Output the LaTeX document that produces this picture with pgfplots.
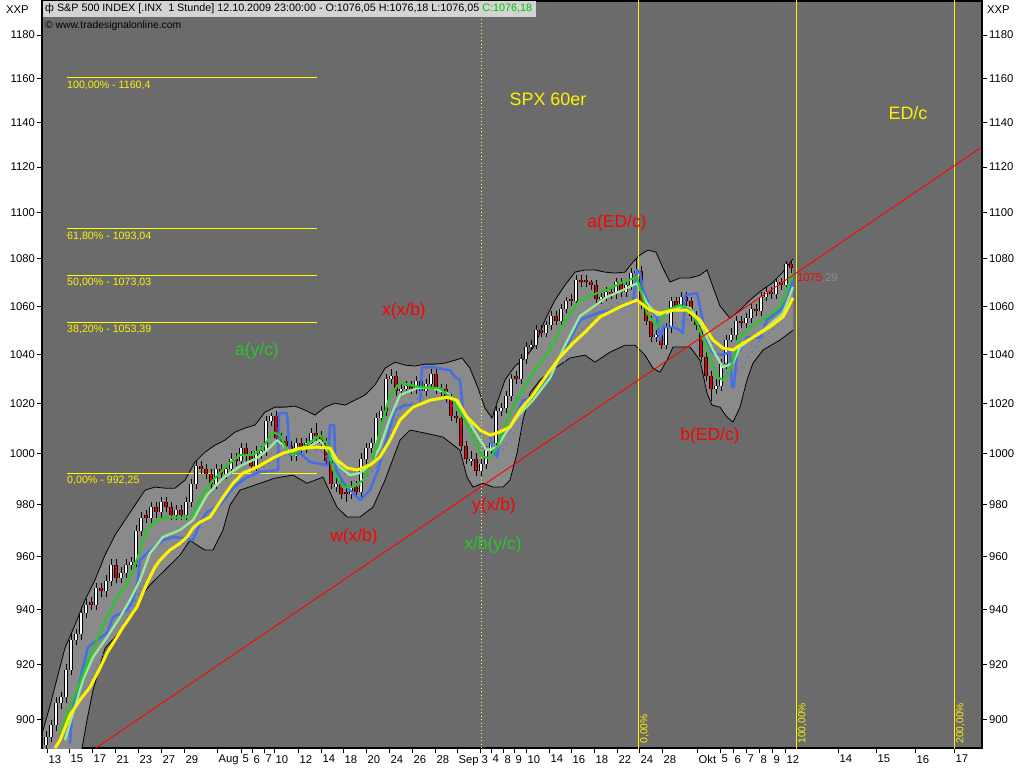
\documentclass[border=0pt]{standalone}
\usepackage{fontspec}
\setmainfont{Liberation Sans}
\usepackage{pgfplots}
\usepackage{pgfplotstable}
\pgfplotsset{compat=1.18}
\definecolor{plotbg}{RGB}{107,107,107}
\definecolor{bandgray}{RGB}{138,138,138}
\definecolor{magreen}{RGB}{40,200,40}
\definecolor{malight}{RGB}{150,235,150}
\definecolor{mablue}{RGB}{70,110,230}
\definecolor{hdrgray}{RGB}{212,212,212}
\definecolor{fibyel}{RGB}{255,255,0}
\definecolor{candred}{RGB}{230,0,0}
\definecolor{annogreen}{RGB}{40,200,40}
\definecolor{hdrgreen}{RGB}{0,190,0}
\newcommand\fs[1]{\fontsize{#1}{#1}\selectfont}

% candle wicks: low, high, break
\pgfplotstableread[row sep=\\]{
x y\\
46 889\\46 896\\46 nan\\ 51 892\\51 900\\51 nan\\ 56 896\\56 908\\56 nan\\ 61 904\\61 910\\61 nan\\
66 906\\66 920\\66 nan\\ 71 916\\71 931\\71 nan\\ 76 927\\76 933\\76 nan\\ 81 929\\81 941\\81 nan\\
86 937\\86 944\\86 nan\\ 91 940\\91 945\\91 nan\\ 96 940\\96 950\\96 nan\\ 101 945\\101 950\\101 nan\\
106 945\\106 953\\106 nan\\ 111 949\\111 959\\111 nan\\ 116 950\\116 959\\116 nan\\ 121 950\\121 956\\121 nan\\
126 952\\126 959\\126 nan\\ 131 955\\131 960\\131 nan\\ 136 956\\136 972\\136 nan\\ 141 968\\141 977\\141 nan\\
146 973\\146 978\\146 nan\\ 151 973\\151 981\\151 nan\\ 156 975\\156 981\\156 nan\\ 161 975\\161 983\\161 nan\\
166 977\\166 983\\166 nan\\ 171 974\\171 981\\171 nan\\ 176 974\\176 980\\176 nan\\ 181 974\\181 980\\181 nan\\
186 974\\186 983\\186 nan\\ 191 979\\191 990\\191 nan\\ 196 986\\196 997\\196 nan\\ 201 992\\201 997\\201 nan\\
206 990\\206 996\\206 nan\\ 211 986\\211 994\\211 nan\\ 216 986\\216 996\\216 nan\\ 221 990\\221 996\\221 nan\\
226 990\\226 996\\226 nan\\ 231 992\\231 1000\\231 nan\\ 236 995\\236 1000\\236 nan\\ 241 995\\241 1004\\241 nan\\
246 997\\246 1004\\246 nan\\ 251 993\\251 1001\\251 nan\\ 256 993\\256 1003\\256 nan\\ 261 998\\261 1003\\261 nan\\
266 999\\266 1015\\266 nan\\ 271 1011\\271 1016\\271 nan\\ 276 1004\\276 1017\\276 nan\\ 281 1003\\281 1008\\281 nan\\
286 1001\\286 1007\\286 nan\\ 291 997\\291 1005\\291 nan\\ 296 997\\296 1006\\296 nan\\ 301 1000\\301 1006\\301 nan\\
306 1000\\306 1006\\306 nan\\ 311 1002\\311 1010\\311 nan\\ 316 1005\\316 1012\\316 nan\\ 321 1002\\321 1009\\321 nan\\
326 995\\326 1006\\326 nan\\ 331 986\\331 999\\331 nan\\ 336 985\\336 991\\336 nan\\ 341 982\\341 990\\341 nan\\
346 981\\346 987\\346 nan\\ 351 982\\351 989\\351 nan\\ 356 983\\356 989\\356 nan\\ 361 983\\361 1000\\361 nan\\
366 996\\366 1004\\366 nan\\ 371 1000\\371 1006\\371 nan\\ 376 1002\\376 1016\\376 nan\\ 381 1012\\381 1019\\381 nan\\
386 1015\\386 1032\\386 nan\\ 391 1028\\391 1034\\391 nan\\ 396 1023\\396 1033\\396 nan\\ 401 1023\\401 1028\\401 nan\\
406 1024\\406 1029\\406 nan\\ 411 1024\\411 1029\\411 nan\\ 416 1024\\416 1031\\416 nan\\ 421 1023\\421 1031\\421 nan\\
426 1023\\426 1030\\426 nan\\ 431 1026\\431 1034\\431 nan\\ 436 1024\\436 1034\\436 nan\\ 441 1023\\441 1028\\441 nan\\
446 1020\\446 1028\\446 nan\\ 451 1013\\451 1024\\451 nan\\ 456 1012\\456 1017\\456 nan\\ 461 1001\\461 1016\\461 nan\\
466 996\\466 1005\\466 nan\\ 471 995\\471 1001\\471 nan\\ 476 991\\476 1000\\476 nan\\ 481 991\\481 998\\481 nan\\
486 994\\486 1003\\486 nan\\ 491 999\\491 1006\\491 nan\\ 496 1002\\496 1019\\496 nan\\ 501 1015\\501 1020\\501 nan\\
506 1016\\506 1025\\506 nan\\ 511 1021\\511 1032\\511 nan\\ 516 1028\\516 1033\\516 nan\\ 521 1028\\521 1040\\521 nan\\
526 1036\\526 1045\\526 nan\\ 531 1042\\531 1046\\531 nan\\ 536 1042\\536 1052\\536 nan\\ 541 1047\\541 1052\\541 nan\\
546 1047\\546 1054\\546 nan\\ 551 1050\\551 1058\\551 nan\\ 556 1052\\556 1058\\556 nan\\ 561 1052\\561 1061\\561 nan\\
566 1057\\566 1064\\566 nan\\ 571 1060\\571 1065\\571 nan\\ 576 1060\\576 1073\\576 nan\\ 581 1068\\581 1073\\581 nan\\
586 1068\\586 1073\\586 nan\\ 591 1067\\591 1071\\591 nan\\ 596 1061\\596 1071\\596 nan\\ 601 1061\\601 1066\\601 nan\\
606 1062\\606 1068\\606 nan\\ 611 1063\\611 1068\\611 nan\\ 616 1063\\616 1072\\616 nan\\ 621 1064\\621 1072\\621 nan\\
626 1064\\626 1071\\626 nan\\ 631 1067\\631 1076\\631 nan\\ 636 1072\\636 1080\\636 nan\\ 641 1059\\641 1077\\641 nan\\
646 1052\\646 1063\\646 nan\\ 651 1045\\651 1056\\651 nan\\ 656 1045\\656 1050\\656 nan\\ 661 1042\\661 1050\\661 nan\\
666 1042\\666 1053\\666 nan\\ 671 1049\\671 1064\\671 nan\\ 676 1058\\676 1064\\676 nan\\ 681 1058\\681 1066\\681 nan\\
686 1060\\686 1066\\686 nan\\ 691 1054\\691 1064\\691 nan\\ 696 1050\\696 1058\\696 nan\\ 701 1037\\701 1054\\701 nan\\
706 1029\\706 1041\\706 nan\\ 711 1021\\711 1033\\711 nan\\ 716 1024\\716 1030\\716 nan\\ 721 1025\\721 1038\\721 nan\\
726 1034\\726 1048\\726 nan\\ 731 1045\\731 1051\\731 nan\\ 736 1046\\736 1056\\736 nan\\ 741 1051\\741 1056\\741 nan\\
746 1051\\746 1057\\746 nan\\ 751 1053\\751 1061\\751 nan\\ 756 1056\\756 1061\\756 nan\\ 761 1056\\761 1066\\761 nan\\
766 1062\\766 1068\\766 nan\\ 771 1063\\771 1068\\771 nan\\ 776 1063\\776 1072\\776 nan\\ 781 1067\\781 1072\\781 nan\\
786 1067\\786 1079\\786 nan\\ 791 1074\\791 1079\\791 nan\\
}\wicks

% rising candle bodies: open, close, break
\pgfplotstableread[row sep=\\]{
x y\\
46 891\\46 894\\46 nan\\ 51 894\\51 898\\51 nan\\ 56 898\\56 906\\56 nan\\ 61 906\\61 908\\61 nan\\
66 908\\66 918\\66 nan\\ 71 918\\71 929\\71 nan\\ 76 929\\76 931\\76 nan\\ 81 931\\81 939\\81 nan\\
86 939\\86 942\\86 nan\\ 96 942\\96 948\\96 nan\\ 106 947\\106 951\\106 nan\\ 111 951\\111 957\\111 nan\\
121 952\\121 954\\121 nan\\ 126 954\\126 957\\126 nan\\ 131 957\\131 958\\131 nan\\ 136 958\\136 970\\136 nan\\
141 970\\141 975\\141 nan\\ 151 975\\151 979\\151 nan\\ 161 977\\161 981\\161 nan\\ 176 976\\176 978\\176 nan\\
186 976\\186 981\\186 nan\\ 191 981\\191 988\\191 nan\\ 196 988\\196 995\\196 nan\\ 216 988\\216 994\\216 nan\\
226 992\\226 994\\226 nan\\ 231 994\\231 998\\231 nan\\ 241 997\\241 1002\\241 nan\\ 256 995\\256 1001\\256 nan\\
261 1000\\261 1001\\261 nan\\ 266 1001\\266 1013\\266 nan\\ 271 1013\\271 1015\\271 nan\\ 296 999\\296 1004\\296 nan\\
306 1002\\306 1004\\306 nan\\ 311 1004\\311 1008\\311 nan\\ 336 987\\336 988\\336 nan\\ 351 984\\351 987\\351 nan\\
361 985\\361 998\\361 nan\\ 366 998\\366 1002\\366 nan\\ 371 1002\\371 1004\\371 nan\\ 376 1004\\376 1014\\376 nan\\
381 1014\\381 1017\\381 nan\\ 386 1017\\386 1030\\386 nan\\ 391 1030\\391 1031\\391 nan\\ 401 1025\\401 1026\\401 nan\\
406 1026\\406 1027\\406 nan\\ 416 1026\\416 1029\\416 nan\\ 426 1025\\426 1028\\426 nan\\ 431 1028\\431 1032\\431 nan\\
441 1025\\441 1026\\441 nan\\ 471 997\\471 998\\471 nan\\ 481 993\\481 996\\481 nan\\ 486 996\\486 1001\\486 nan\\
491 1001\\491 1004\\491 nan\\ 496 1004\\496 1017\\496 nan\\ 501 1017\\501 1018\\501 nan\\ 506 1018\\506 1023\\506 nan\\
511 1023\\511 1030\\511 nan\\ 521 1030\\521 1038\\521 nan\\ 526 1038\\526 1043\\526 nan\\ 531 1043\\531 1044\\531 nan\\
536 1044\\536 1050\\536 nan\\ 546 1049\\546 1052\\546 nan\\ 551 1052\\551 1056\\551 nan\\ 561 1054\\561 1059\\561 nan\\
566 1059\\566 1062\\566 nan\\ 576 1062\\576 1071\\576 nan\\ 601 1063\\601 1064\\601 nan\\ 606 1064\\606 1066\\606 nan\\
616 1065\\616 1070\\616 nan\\ 626 1066\\626 1069\\626 nan\\ 631 1069\\631 1074\\631 nan\\ 636 1074\\636 1075\\636 nan\\
656 1047\\656 1048\\656 nan\\ 666 1044\\666 1051\\666 nan\\ 671 1051\\671 1062\\671 nan\\ 681 1060\\681 1064\\681 nan\\
716 1026\\716 1027\\716 nan\\ 721 1027\\721 1036\\721 nan\\ 726 1036\\726 1046\\726 nan\\ 731 1046\\731 1048\\731 nan\\
736 1048\\736 1054\\736 nan\\ 746 1053\\746 1055\\746 nan\\ 751 1055\\751 1059\\751 nan\\ 761 1058\\761 1064\\761 nan\\
766 1064\\766 1066\\766 nan\\ 776 1065\\776 1070\\776 nan\\ 786 1069\\786 1078\\786 nan\\
}\upbodies

% falling candle bodies: close, open, break
\pgfplotstableread[row sep=\\]{
x y\\
91 942\\91 943\\91 nan\\ 101 947\\101 948\\101 nan\\ 116 952\\116 957\\116 nan\\ 146 975\\146 976\\146 nan\\
156 977\\156 979\\156 nan\\ 166 979\\166 981\\166 nan\\ 171 976\\171 979\\171 nan\\ 181 976\\181 978\\181 nan\\
201 994\\201 995\\201 nan\\ 206 992\\206 994\\206 nan\\ 211 988\\211 992\\211 nan\\ 221 992\\221 994\\221 nan\\
236 997\\236 998\\236 nan\\ 246 999\\246 1002\\246 nan\\ 251 995\\251 999\\251 nan\\ 276 1006\\276 1015\\276 nan\\
281 1005\\281 1006\\281 nan\\ 286 1003\\286 1005\\286 nan\\ 291 999\\291 1003\\291 nan\\ 301 1002\\301 1004\\301 nan\\
316 1007\\316 1008\\316 nan\\ 321 1004\\321 1007\\321 nan\\ 326 997\\326 1004\\326 nan\\ 331 988\\331 997\\331 nan\\
341 984\\341 988\\341 nan\\ 346 984\\346 985\\346 nan\\ 356 985\\356 987\\356 nan\\ 396 1025\\396 1031\\396 nan\\
411 1026\\411 1027\\411 nan\\ 421 1025\\421 1029\\421 nan\\ 436 1026\\436 1032\\436 nan\\ 446 1022\\446 1026\\446 nan\\
451 1015\\451 1022\\451 nan\\ 456 1014\\456 1015\\456 nan\\ 461 1003\\461 1014\\461 nan\\ 466 998\\466 1003\\466 nan\\
476 993\\476 998\\476 nan\\ 516 1030\\516 1031\\516 nan\\ 541 1049\\541 1050\\541 nan\\ 556 1054\\556 1056\\556 nan\\
571 1062\\571 1063\\571 nan\\ 581 1070\\581 1071\\581 nan\\ 586 1070\\586 1071\\586 nan\\ 591 1069\\591 1070\\591 nan\\
596 1063\\596 1069\\596 nan\\ 611 1065\\611 1066\\611 nan\\ 621 1066\\621 1070\\621 nan\\ 641 1061\\641 1075\\641 nan\\
646 1054\\646 1061\\646 nan\\ 651 1047\\651 1054\\651 nan\\ 661 1044\\661 1048\\661 nan\\ 676 1060\\676 1062\\676 nan\\
686 1062\\686 1064\\686 nan\\ 691 1056\\691 1062\\691 nan\\ 696 1052\\696 1056\\696 nan\\ 701 1039\\701 1052\\701 nan\\
706 1031\\706 1039\\706 nan\\ 711 1026\\711 1031\\711 nan\\ 741 1053\\741 1054\\741 nan\\ 756 1058\\756 1059\\756 nan\\
771 1065\\771 1066\\771 nan\\ 781 1069\\781 1070\\781 nan\\ 791 1076\\791 1078\\791 nan\\
}\dnbodies

% Bollinger band as closed polygon: upper edge forward, lower edge backward
\pgfplotstableread[row sep=\\]{
x y\\
42 895\\ 50 905\\ 55 912\\ 65 926\\ 75 934.4\\ 85 943.7\\ 95 951.2\\ 105 960.6\\ 115 968.2\\ 125 974.0\\
135 979.8\\ 145 985.6\\ 155 986.8\\ 165 986.4\\ 175 986.4\\ 185 989.5\\ 195 996.6\\ 205 1000.5\\ 215 1003.3\\
225 1005.3\\ 235 1008.5\\ 245 1010.1\\ 255 1011.3\\ 265 1016.5\\ 275 1018.5\\ 285 1018.5\\ 295 1018.9\\
305 1017.3\\ 315 1015.3\\ 325 1018.5\\ 335 1020.1\\ 345 1019.3\\ 355 1021.3\\ 365 1023.4\\ 375 1027.5\\
385 1034.3\\ 395 1036.8\\ 405 1035.6\\ 415 1035.2\\ 425 1036.0\\ 435 1036.0\\ 445 1036.4\\ 455 1037.6\\
462 1038.5\\ 470 1034.3\\ 478 1026.2\\ 485 1018.1\\ 492 1014.1\\ 498 1021.3\\ 505 1029.5\\ 515 1035.2\\
525 1038.5\\ 535 1043.8\\ 545 1054.2\\ 555 1062.6\\ 565 1068.9\\ 575 1074.4\\ 585 1075.3\\ 595 1075.3\\
605 1074.4\\ 615 1074.0\\ 625 1074.4\\ 633 1078.7\\ 640 1081.7\\ 648 1083.8\\ 656 1082.9\\ 663 1076.1\\
670 1070.2\\ 680 1071.9\\ 690 1071.9\\ 700 1073.1\\ 707 1075.3\\ 713 1068.1\\ 720 1060.1\\ 730 1055.0\\
740 1058.4\\ 750 1062.6\\ 762 1066.8\\ 772 1069.7\\ 782 1074.0\\ 793 1080.0\\
793 1050.0\\ 780 1045.9\\ 763 1041.8\\ 753 1036.4\\ 747 1029.5\\ 740 1018.5\\ 733 1012.5\\ 727 1014.5\\
720 1018.5\\ 712 1019.3\\ 707 1024.2\\ 700 1037.6\\ 690 1043.0\\ 673 1043.0\\ 667 1037.6\\ 660 1032.7\\
653 1034.3\\ 645 1039.7\\ 635 1043.8\\ 625 1043.8\\ 610 1040.9\\ 595 1036.8\\ 585 1039.7\\ 570 1038.5\\
555 1034.3\\ 540 1029.5\\ 530 1024.2\\ 523 1013.3\\ 517 1000.1\\ 510 989.5\\ 503 986.8\\ 493 986.8\\
483 988.3\\ 473 986.8\\ 467 990.7\\ 460 1001.3\\ 443 1006.5\\ 425 1008.1\\ 410 1009.3\\ 400 1005.3\\
385 989.5\\ 373 979.0\\ 360 975.2\\ 347 975.2\\ 337 979.0\\ 323 990.7\\ 307 988.3\\ 293 991.5\\
275 990.3\\ 260 988.3\\ 240 985.6\\ 230 979.8\\ 223 970.2\\ 213 962.5\\ 205 962.5\\ 197 964.4\\
190 966.3\\ 180 960.6\\ 170 956.8\\ 160 953.1\\ 150 949.3\\ 142 945.6\\ 135 939.2\\ 125 934.4\\
115 929.9\\ 105 925.9\\ 98 916.8\\ 93 910.6\\ 87 899.9\\ 80 886\\ 45 880\\
}\bandpoly

\pgfplotstableread[row sep=\\]{
x y\\
42 895\\ 50 905\\ 55 912\\ 65 926\\ 75 934.4\\ 85 943.7\\ 95 951.2\\ 105 960.6\\ 115 968.2\\ 125 974.0\\
135 979.8\\ 145 985.6\\ 155 986.8\\ 165 986.4\\ 175 986.4\\ 185 989.5\\ 195 996.6\\ 205 1000.5\\ 215 1003.3\\
225 1005.3\\ 235 1008.5\\ 245 1010.1\\ 255 1011.3\\ 265 1016.5\\ 275 1018.5\\ 285 1018.5\\ 295 1018.9\\
305 1017.3\\ 315 1015.3\\ 325 1018.5\\ 335 1020.1\\ 345 1019.3\\ 355 1021.3\\ 365 1023.4\\ 375 1027.5\\
385 1034.3\\ 395 1036.8\\ 405 1035.6\\ 415 1035.2\\ 425 1036.0\\ 435 1036.0\\ 445 1036.4\\ 455 1037.6\\
462 1038.5\\ 470 1034.3\\ 478 1026.2\\ 485 1018.1\\ 492 1014.1\\ 498 1021.3\\ 505 1029.5\\ 515 1035.2\\
525 1038.5\\ 535 1043.8\\ 545 1054.2\\ 555 1062.6\\ 565 1068.9\\ 575 1074.4\\ 585 1075.3\\ 595 1075.3\\
605 1074.4\\ 615 1074.0\\ 625 1074.4\\ 633 1078.7\\ 640 1081.7\\ 648 1083.8\\ 656 1082.9\\ 663 1076.1\\
670 1070.2\\ 680 1071.9\\ 690 1071.9\\ 700 1073.1\\ 707 1075.3\\ 713 1068.1\\ 720 1060.1\\ 730 1055.0\\
740 1058.4\\ 750 1062.6\\ 762 1066.8\\ 772 1069.7\\ 782 1074.0\\ 793 1080.0\\
}\bandup

\pgfplotstableread[row sep=\\]{
x y\\
45 880\\ 80 886\\ 87 899.9\\ 93 910.6\\ 98 916.8\\ 105 925.9\\ 115 929.9\\ 125 934.4\\ 135 939.2\\
142 945.6\\ 150 949.3\\ 160 953.1\\ 170 956.8\\ 180 960.6\\ 190 966.3\\ 197 964.4\\ 205 962.5\\
213 962.5\\ 223 970.2\\ 230 979.8\\ 240 985.6\\ 260 988.3\\ 275 990.3\\ 293 991.5\\ 307 988.3\\
323 990.7\\ 337 979.0\\ 347 975.2\\ 360 975.2\\ 373 979.0\\ 385 989.5\\ 400 1005.3\\ 410 1009.3\\
425 1008.1\\ 443 1006.5\\ 460 1001.3\\ 467 990.7\\ 473 986.8\\ 483 988.3\\ 493 986.8\\ 503 986.8\\
510 989.5\\ 517 1000.1\\ 523 1013.3\\ 530 1024.2\\ 540 1029.5\\ 555 1034.3\\ 570 1038.5\\ 585 1039.7\\
595 1036.8\\ 610 1040.9\\ 625 1043.8\\ 635 1043.8\\ 645 1039.7\\ 653 1034.3\\ 660 1032.7\\ 667 1037.6\\
673 1043.0\\ 690 1043.0\\ 700 1037.6\\ 707 1024.2\\ 712 1019.3\\ 720 1018.5\\ 727 1014.5\\ 733 1012.5\\
740 1018.5\\ 747 1029.5\\ 753 1036.4\\ 763 1041.8\\ 780 1045.9\\ 793 1050.0\\
}\bandlo

\pgfplotstableread[row sep=\\]{
x y\\
60 893.9\\ 67 902.4\\ 77 910.6\\ 87 920.4\\ 97 928.8\\ 107 937.3\\ 117 944.8\\ 125 948.2\\ 135 956.8\\
147 970.2\\ 157 974.0\\ 167 975.2\\ 183 974.8\\ 193 976.0\\ 203 984.4\\ 213 989.5\\ 227 995.4\\
240 999.4\\ 253 999.4\\ 263 1002.5\\ 273 1008.5\\ 280 1007.3\\ 287 1001.3\\ 293 999.4\\ 303 1002.5\\
313 1005.3\\ 320 1007.3\\ 327 1004.1\\ 333 993.5\\ 343 986.8\\ 353 986.8\\ 363 989.5\\ 373 997.4\\
380 1009.3\\ 390 1023.4\\ 400 1028.3\\ 420 1026.6\\ 440 1026.2\\ 453 1021.3\\ 463 1014.5\\ 473 1006.5\\
483 998.6\\ 490 998.2\\ 497 1002.5\\ 503 1009.3\\ 513 1018.5\\ 527 1028.3\\ 540 1036.4\\ 550 1041.8\\
565 1054.2\\ 580 1062.6\\ 597 1065.5\\ 607 1066.8\\ 620 1069.7\\ 637 1072.3\\ 647 1057.1\\ 657 1051.3\\
667 1058.4\\ 680 1060.5\\ 690 1058.4\\ 697 1053.0\\ 707 1041.8\\ 717 1030.7\\ 723 1029.5\\ 730 1033.5\\
740 1047.1\\ 753 1052.1\\ 767 1055.5\\ 780 1059.7\\ 793 1074.0\\
}\magreendata

\pgfplotstableread[row sep=\\]{
x y\\
65 892.8\\ 73 902.4\\ 83 914.3\\ 93 922.6\\ 107 929.9\\ 120 937.3\\ 130 943.7\\ 140 951.2\\ 150 961.4\\
163 967.5\\ 180 970.2\\ 193 974.0\\ 207 983.7\\ 223 990.3\\ 240 995.0\\ 257 998.2\\ 267 1001.3\\
277 1005.3\\ 283 1003.3\\ 290 1000.5\\ 307 1002.1\\ 320 1005.3\\ 327 1001.3\\ 340 994.6\\ 350 991.5\\
360 992.3\\ 370 995.4\\ 380 1002.5\\ 390 1014.1\\ 400 1023.4\\ 417 1026.2\\ 433 1026.2\\ 447 1024.2\\
460 1018.5\\ 470 1012.1\\ 480 1005.3\\ 487 1001.3\\ 497 1002.5\\ 503 1006.5\\ 517 1014.5\\ 533 1021.3\\
550 1030.3\\ 565 1043.8\\ 580 1055.9\\ 593 1059.7\\ 607 1063.9\\ 623 1066.8\\ 637 1069.7\\ 647 1061.3\\
657 1056.3\\ 667 1057.1\\ 680 1059.7\\ 690 1059.3\\ 700 1053.0\\ 713 1041.8\\ 723 1034.7\\ 733 1036.4\\
740 1043.0\\ 753 1047.1\\ 767 1051.3\\ 783 1057.1\\ 793 1068.1\\
}\malightdata

\pgfplotstableread[row sep=\\]{
x y\\
70 891.7\\ 72 902.4\\ 80 914.3\\ 83 919.0\\ 88 926.3\\ 97 928.8\\ 107 931.4\\ 113 937.3\\ 127 939.9\\
133 943.7\\ 138 951.2\\ 140 958.7\\ 150 962.5\\ 163 966.3\\ 173 967.5\\ 183 967.1\\ 193 966.3\\
200 972.9\\ 207 977.1\\ 220 979.8\\ 233 986.4\\ 247 990.7\\ 260 992.7\\ 278 993.5\\ 279 1016.1\\
287 1016.1\\ 290 999.4\\ 300 1000.1\\ 310 996.6\\ 328 995.4\\ 330 1011.3\\ 334 1011.3\\ 336 993.5\\
345 987.6\\ 360 981.7\\ 370 985.6\\ 378 993.5\\ 385 1003.3\\ 395 1017.3\\ 405 1019.3\\ 420 1019.3\\
422 1034.7\\ 433 1034.7\\ 450 1033.5\\ 455 1030.7\\ 460 1029.5\\ 463 1017.3\\ 473 1010.5\\ 483 1008.5\\
490 1007.3\\ 493 1001.3\\ 497 998.6\\ 500 1006.5\\ 507 1008.1\\ 513 1012.1\\ 523 1021.3\\ 533 1022.5\\
543 1028.3\\ 557 1036.4\\ 567 1043.8\\ 580 1054.2\\ 600 1057.5\\ 613 1058.4\\ 623 1059.7\\ 633 1061.3\\
637 1075.3\\ 640 1074.0\\ 643 1066.8\\ 650 1059.7\\ 657 1055.5\\ 660 1045.9\\ 663 1051.3\\ 673 1051.3\\
680 1050.0\\ 683 1048.8\\ 685 1064.7\\ 697 1065.5\\ 700 1059.7\\ 707 1045.9\\ 713 1040.5\\ 720 1039.7\\
727 1040.5\\ 730 1041.8\\ 732 1026.6\\ 734 1026.6\\ 737 1040.5\\ 740 1041.8\\ 747 1047.1\\ 753 1047.1\\
760 1046.7\\ 767 1054.2\\ 780 1058.4\\ 787 1062.6\\ 793 1071.0\\
}\mabluedata

\pgfplotstableread[row sep=\\]{
x y\\
80 907.1\\ 100 921.5\\ 120 932.5\\ 140 947.4\\ 160 958.7\\ 180 964.4\\ 200 970.2\\ 220 981.7\\
240 989.5\\ 260 993.5\\ 280 999.4\\ 300 999.4\\ 320 1001.3\\ 340 993.5\\ 360 987.6\\ 380 996.6\\
400 1017.3\\ 420 1022.5\\ 440 1022.1\\ 460 1017.3\\ 480 1003.3\\ 500 1000.1\\ 520 1011.3\\ 540 1021.3\\
560 1033.5\\ 580 1050.0\\ 600 1055.0\\ 620 1062.6\\ 640 1066.8\\ 660 1052.1\\ 680 1053.4\\ 700 1056.3\\
720 1037.6\\ 740 1033.5\\ 760 1045.9\\ 780 1052.9\\ 793 1062.6\\
}\madotdata

\pgfplotstableread[row sep=\\]{
x y\\
55 890.0\\ 60 892.8\\ 70 901.7\\ 80 907.1\\ 90 911.7\\ 100 918.6\\ 107 924.1\\ 115 928.8\\ 123 933.6\\
130 937.3\\ 137 941.1\\ 147 950.1\\ 155 956.1\\ 160 958.7\\ 170 962.5\\ 180 965.1\\ 187 967.5\\
193 971.0\\ 200 973.2\\ 210 975.2\\ 223 982.8\\ 233 988.3\\ 243 992.3\\ 257 994.6\\ 273 998.2\\
283 1000.1\\ 300 1002.1\\ 317 1002.5\\ 330 1002.1\\ 337 997.4\\ 347 994.3\\ 357 993.5\\ 370 995.4\\
380 998.6\\ 390 1005.3\\ 400 1013.3\\ 413 1018.5\\ 430 1021.3\\ 447 1022.5\\ 457 1021.3\\ 467 1014.5\\
480 1009.3\\ 490 1007.3\\ 497 1008.1\\ 510 1010.5\\ 520 1017.3\\ 533 1023.4\\ 547 1031.6\\ 560 1038.9\\
573 1044.6\\ 585 1049.2\\ 600 1055.5\\ 620 1059.7\\ 637 1062.6\\ 650 1058.4\\ 660 1057.1\\ 673 1058.4\\
687 1058.4\\ 700 1054.2\\ 713 1045.9\\ 723 1042.6\\ 733 1041.8\\ 743 1044.6\\ 757 1048.0\\ 770 1051.4\\
783 1055.5\\ 793 1063.5\\
}\mayellowdata

% Fibonacci levels and trend line (price)
\pgfplotstableread[row sep=\\]{
x y\\
67 1160.4\\ 317 1160.4\\ 67 nan\\ 67 1093.04\\ 317 1093.04\\ 67 nan\\ 67 1073.03\\ 317 1073.03\\ 67 nan\\
67 1053.39\\ 317 1053.39\\ 67 nan\\ 67 992.25\\ 317 992.25\\
}\fiblevels
\pgfplotstableread[row sep=\\]{
x y\\
95.6 890\\ 982 1128.9\\
}\trend

% price axis: log scale drawn as ln(price) on a linear axis
\pgfplotsset{
  priceaxis/.style={
    at={(42bp,20bp)}, anchor=south west,
    scale only axis, width=940bp, height=747bp,
    xmin=42, xmax=982, ymin=6.791221, ymax=7.086738,
    axis line style={black, line width=1.2bp},
    tick style={black, line width=0.8bp},
    tick align=outside, major tick length=5bp,
    yminorticks=false, xminorticks=false,
    ytick={6.802395,6.824374,6.845880,6.866933,6.887553,6.907755,6.927558,6.946976,6.966024,6.984716,7.003065,7.021084,7.038784,7.056175,7.073270},
    yticklabels={900,920,940,960,980,1000,1020,1040,1060,1080,1100,1120,1140,1160,1180},
    tick label style={font=\fs{11.3}},
  },
}

\begin{document}
\begin{tikzpicture}
\useasboundingbox (0,0) rectangle (1024bp,768bp);
\fill[white] (0,0) rectangle (1024bp,768bp);
\begin{axis}[
  priceaxis,
  axis background/.style={fill=plotbg},
  xtick pos=bottom, ytick pos=left,
  xtick={47,69,92,115,138,161,184,217,241,252,264,274,298,321,343,366,389,412,435,457,480,491,503,514,526,549,571,594,617,639,662,697,720,733,746,759,772,785,838,876,915,954},
  xticklabels={13,15,17,21,23,27,29,Aug,5,6,7,10,12,14,18,20,24,26,28,Sep,3,4,8,9,10,14,16,18,22,24,28,Okt,5,6,7,8,9,12,14,15,16,17},
  xticklabel style={anchor=north west, inner sep=0pt, xshift=1.5bp, yshift=-2bp},
  yticklabel style={anchor=east, inner sep=0pt, xshift=-2bp},
  unbounded coords=jump,
  clip=true,
]
% Bollinger band
\addplot[fill=bandgray, draw=none, forget plot] table[y expr=ln(\thisrow{y})] {\bandpoly};
\addplot[black, line width=0.8bp, forget plot] table[y expr=ln(\thisrow{y})] {\bandup};
\addplot[black, line width=0.8bp, forget plot] table[y expr=ln(\thisrow{y})] {\bandlo};

% Fibonacci levels
\addplot[fibyel, line width=1bp, forget plot] table[y expr=ln(\thisrow{y})] {\fiblevels};

% vertical lines
\addplot[yellow, line width=1bp, forget plot] coordinates {(638,6.78) (638,7.10)};
\addplot[yellow, line width=1bp, forget plot] coordinates {(796,6.78) (796,7.10)};
\addplot[yellow, line width=1bp, forget plot] coordinates {(954,6.78) (954,7.10)};
\addplot[yellow!50!white, line width=1bp, dash pattern=on 1bp off 2.5bp, forget plot] coordinates {(481,6.78) (481,7.10)};

% candles
\addplot[black, line width=0.9bp, forget plot] table[y expr=ln(\thisrow{y})] {\wicks};
\addplot[black, line width=3.8bp, forget plot] table[y expr=ln(\thisrow{y})] {\upbodies};
\addplot[black, line width=3.8bp, forget plot] table[y expr=ln(\thisrow{y})] {\dnbodies};
\addplot[white, line width=2.2bp, forget plot] table[y expr=ln(\thisrow{y})] {\upbodies};
\addplot[candred, line width=2.2bp, forget plot] table[y expr=ln(\thisrow{y})] {\dnbodies};

% moving averages
\addplot[mablue, line width=1.3bp, dash pattern=on 1.3bp off 5bp, forget plot] table[y expr=ln(\thisrow{y})] {\madotdata};
\addplot[mablue, line width=2.5bp, line join=round, forget plot] table[y expr=ln(\thisrow{y})] {\mabluedata};
\addplot[malight, line width=2.3bp, line join=round, forget plot] table[y expr=ln(\thisrow{y})] {\malightdata};
\addplot[magreen, line width=2.2bp, line join=round, forget plot] table[y expr=ln(\thisrow{y})] {\magreendata};
\addplot[yellow, line width=3bp, line join=round, forget plot] table[y expr=ln(\thisrow{y})] {\mayellowdata};

% trend line
\addplot[red, line width=0.9bp, forget plot] table[y expr=ln(\thisrow{y})] {\trend};

% fib labels (y = ln of level)
\node[anchor=north west, inner sep=0pt, text=yellow, font=\fs{10.7}, yshift=-3bp] at (axis cs:67,7.056520) {100,00\% - 1160,4};
\node[anchor=north west, inner sep=0pt, text=yellow, font=\fs{10.7}, yshift=-3bp] at (axis cs:67,6.996718) {61,80\% - 1093,04};
\node[anchor=north west, inner sep=0pt, text=yellow, font=\fs{10.7}, yshift=-3bp] at (axis cs:67,6.978242) {50,00\% - 1073,03};
\node[anchor=north west, inner sep=0pt, text=yellow, font=\fs{10.7}, yshift=-3bp] at (axis cs:67,6.959768) {38,20\% - 1053,39};
\node[anchor=north west, inner sep=0pt, text=yellow, font=\fs{10.7}, yshift=-3bp] at (axis cs:67,6.899975) {0,00\% - 992,25};

% vertical line labels
\node[rotate=90, anchor=north west, inner sep=0pt, text=yellow, font=\fs{10.3}] at (axis cs:640,6.792901) {0,00\%};
\node[rotate=90, anchor=north west, inner sep=0pt, text=yellow, font=\fs{10.3}] at (axis cs:798,6.792901) {100,00\%};
\node[rotate=90, anchor=north west, inner sep=0pt, text=yellow, font=\fs{10.3}] at (axis cs:956,6.792901) {200,00\%};

% annotations
\node[text=yellow, font=\fs{18}] at (axis cs:548,7.047952) {SPX 60er};
\node[text=yellow, font=\fs{18}] at (axis cs:908,7.042461) {ED/c};
\node[text=red, font=\fs{17.5}] at (axis cs:617,6.998877) {a(ED/c)};
\node[text=red, font=\fs{17.5}] at (axis cs:404,6.964135) {x(x/b)};
\node[text=annogreen, font=\fs{17.5}] at (axis cs:257,6.948225) {a(y/c)};
\node[text=red, font=\fs{17.5}] at (axis cs:710,6.914631) {b(ED/c)};
\node[text=red, font=\fs{17.5}] at (axis cs:494,6.886940) {y(x/b)};
\node[text=red, font=\fs{17.5}] at (axis cs:354,6.874612) {w(x/b)};
\node[text=annogreen, font=\fs{17.5}] at (axis cs:493,6.871506) {x/b(y/c)};
\node[anchor=west, inner sep=0pt, font=\fs{11.3}] at (axis cs:797,6.977188) {\textcolor{red}{1075}\textcolor{black!45}{,29}};
\end{axis}

% right-hand price labels
\begin{axis}[
  priceaxis,
  hide x axis,
  ytick pos=right, yticklabel pos=right,
  yticklabel style={anchor=west, inner sep=0pt, xshift=2bp},
]
\addplot[draw=none] coordinates {(500,6.9)};
\end{axis}

% header
\fill[hdrgray] (43bp,751bp) rectangle (536bp,767bp);
\node[anchor=west, inner sep=0pt, font=\fs{10.8}] at (45bp,759bp) {ф S\&P 500 INDEX [.INX\ \ 1 Stunde] 12.10.2009 23:00:00 - O:1076,05 H:1076,18 L:1076,05 \textcolor{hdrgreen}{C:1076,18}};
\node[anchor=west, inner sep=0pt, font=\fs{10.4}] at (45bp,742bp) {\textcopyright\ www.tradesignalonline.com};
\node[anchor=west, inner sep=0pt, font=\fs{11.3}] at (6bp,758bp) {XXP};
\node[anchor=west, inner sep=0pt, font=\fs{11.3}] at (987bp,758bp) {XXP};
\end{tikzpicture}
\end{document}
